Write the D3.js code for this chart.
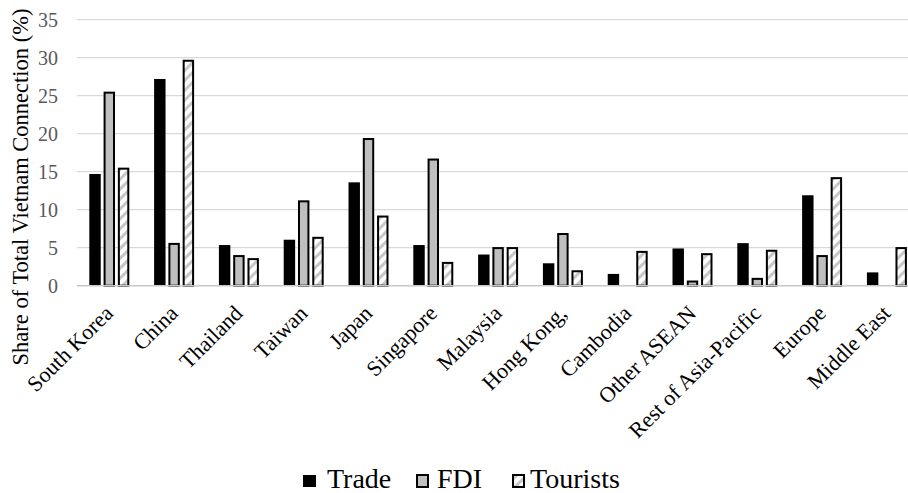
<!DOCTYPE html>
<html>
<head>
<meta charset="utf-8">
<script src="https://cdn.jsdelivr.net/npm/d3@7/dist/d3.min.js"></script>
<style>
  html, body { margin: 0; padding: 0; background: #fff; }
  svg { display: block; font-family: "Liberation Serif", "Times New Roman", serif; }
  svg text { font-family: "Liberation Serif", "Times New Roman", serif; }
</style>
</head>
<body>
<svg id="chart" width="908" height="493"></svg>
<script>
// Share of total Vietnam connection by partner (%)
const categories = ["South Korea", "China", "Thailand", "Taiwan", "Japan", "Singapore",
  "Malaysia", "Hong Kong,", "Cambodia", "Other ASEAN", "Rest of Asia-Pacific", "Europe", "Middle East"];
const seriesNames = ["Trade", "FDI", "Tourists"];
const trade    = [14.7, 27.2, 5.35, 6.05, 13.6, 5.35, 4.1, 2.95, 1.55, 4.9, 5.6, 11.9, 1.75];
const fdi      = [25.4, 5.5, 3.9, 11.1, 19.3, 16.6, 4.95, 6.8, 0.0, 0.55, 0.9, 3.9, 0.0];
const tourists = [15.4, 29.6, 3.5, 6.3, 9.1, 3.0, 4.95, 1.9, 4.45, 4.15, 4.6, 14.15, 4.95];
const yTicks = [0, 5, 10, 15, 20, 25, 30, 35];

const svg = d3.select("#chart");
const W = 908, H = 493;

// hatch pattern for the Tourists series
const defs = svg.append("defs");
defs.append("pattern")
  .attr("id", "hatch")
  .attr("patternUnits", "userSpaceOnUse")
  .attr("width", 7).attr("height", 7)
  .attr("patternTransform", "rotate(45)")
  .call(p => {
    p.append("rect").attr("width", 7).attr("height", 7).attr("fill", "#fff");
    p.append("rect").attr("x", 0).attr("width", 3).attr("height", 7).attr("fill", "#c8c8c8");
  });

const x0 = d3.scaleBand().domain(categories).range([76.9, 919.3])
  .paddingInner(0.383).paddingOuter(0.1915);
const x1 = d3.scaleBand().domain(seriesNames).range([0, x0.bandwidth()])
  .paddingInner(0.2).paddingOuter(0);
const y = d3.scaleLinear().domain([0, 35]).range([285.7, 19.7]);

const styles = {
  Trade:    { fill: "#000", stroke: "none", inset: 0 },
  FDI:      { fill: "#bfbfbf", stroke: "#000", inset: 1 },
  Tourists: { fill: "url(#hatch)", stroke: "#000", inset: 1 }
};
const values = { Trade: trade, FDI: fdi, Tourists: tourists };

// gridlines
svg.append("g").selectAll("line").data(yTicks.filter(t => t > 0)).join("line")
  .attr("x1", 76.9).attr("x2", W)
  .attr("y1", d => y(d)).attr("y2", d => y(d))
  .attr("stroke", "#d9d9d9").attr("stroke-width", 1.3);

// y axis labels
const yAxis = d3.axisLeft(y).tickValues(yTicks).tickSize(0).tickPadding(0);
svg.append("g").attr("transform", "translate(58,0)").call(yAxis)
  .attr("font-family", null)
  .call(g => g.select(".domain").remove())
  .call(g => g.selectAll("text")
    .attr("fill", "#595959").attr("font-size", 20)
    .attr("dy", "0.34em"));

// bars
const groups = svg.append("g").selectAll("g").data(categories).join("g")
  .attr("transform", d => `translate(${x0(d)},0)`);
groups.selectAll("rect")
  .data((c, i) => seriesNames.map(s => ({ s, v: values[s][i] })))
  .join("rect")
  .attr("x", d => x1(d.s) + styles[d.s].inset)
  .attr("width", d => x1.bandwidth() - 2 * styles[d.s].inset)
  .attr("y", d => y(d.v))
  .attr("height", d => y(0) - y(d.v))
  .attr("fill", d => styles[d.s].fill)
  .attr("stroke", d => styles[d.s].stroke)
  .attr("stroke-width", 2);

// category axis line
svg.append("line")
  .attr("x1", 76.9).attr("x2", W)
  .attr("y1", y(0)).attr("y2", y(0))
  .attr("stroke", "#c8c8c8").attr("stroke-width", 1.5);

// category labels
const xAxis = d3.axisBottom(x0).tickSize(0).tickPadding(0);
svg.append("g").attr("transform", `translate(0,${y(0)})`).call(xAxis)
  .attr("font-family", null)
  .call(g => g.select(".domain").remove())
  .call(g => g.selectAll("text")
    .attr("font-size", 22)
    .attr("fill", "#000")
    .attr("text-anchor", "end")
    .attr("dy", 0).attr("y", 0)
    .attr("transform", "translate(5,29) rotate(-45)"));

// y axis title
svg.append("text")
  .attr("transform", "translate(28,187) rotate(-90)")
  .attr("text-anchor", "middle")
  .attr("font-size", 22.5)
  .attr("fill", "#000")
  .text("Share of Total Vietnam Connection (%)");

// legend
const legend = [
  { s: "Trade", sx: 303, tx: 327 },
  { s: "FDI", sx: 416, tx: 437 },
  { s: "Tourists", sx: 512, tx: 530 }
];
const lg = svg.append("g").selectAll("g").data(legend).join("g");
lg.append("rect")
  .attr("x", d => d.sx + styles[d.s].inset)
  .attr("y", 474 + 1)
  .attr("width", d => 13 - 2 * styles[d.s].inset)
  .attr("height", 12)
  .attr("fill", d => styles[d.s].fill)
  .attr("stroke", d => styles[d.s].stroke)
  .attr("stroke-width", 2);
lg.append("text")
  .attr("x", d => d.tx).attr("y", 488.3)
  .attr("font-size", 28).attr("fill", "#000")
  .text(d => d.s);
</script>
</body>
</html>
